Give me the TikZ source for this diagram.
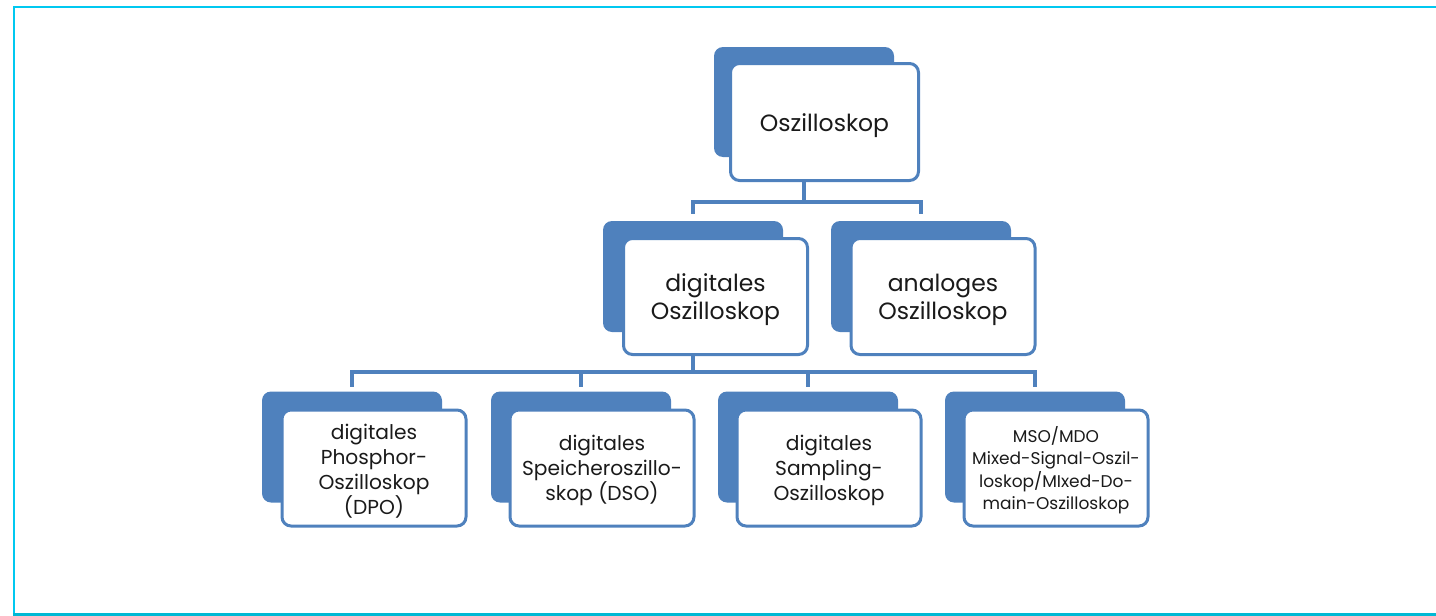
\documentclass[tikz,border=0pt]{standalone}
\usepackage{fontspec}
\setmainfont{Poppins}
\usetikzlibrary{calc}
\pgfdeclarelayer{bg}
\pgfsetlayers{bg,main}
\definecolor{boxblue}{HTML}{4F81BD}
\definecolor{frametop}{RGB}{0,200,240}
\definecolor{framebot}{RGB}{0,184,212}
\definecolor{txt}{HTML}{1A1A1A}
\begin{document}
\begin{tikzpicture}[x=1pt,y=-1pt,
  back/.style={draw=none, fill=boxblue, rounded corners=9pt, inner sep=0pt},
  front/.style={draw=boxblue, line width=3pt, fill=white, rounded corners=9pt, inner sep=0pt},
  label text/.style={align=center, text=txt, inner sep=0pt},
  conn/.style={draw=boxblue, line width=3.5pt},
  big/.style={font=\fontsize{23.5}{28}\selectfont},
  mid/.style={font=\fontsize{20.2}{25}\selectfont},
  small/.style={font=\fontsize{17}{22.5}\selectfont},
  bsize/.style={minimum width=180pt, minimum height=111pt},
  fsize/.style={minimum width=184pt, minimum height=116pt}
]
\useasboundingbox (0,0) rectangle (1436,616);
% frame
\draw[frametop, line width=2pt] (13,7) -- (1436,7);
\draw[frametop, line width=2pt] (14,6) -- (14,613);
\draw[framebot, line width=3pt] (13,614.5) -- (1436,614.5);

% level 1
\node[back, minimum width=180pt, minimum height=110pt] (topB) at (804,102) {};
\node[front, minimum width=188pt, minimum height=117pt] (top) at (824.5,122) {};
\node[label text, big] (topT) at ([yshift=-4pt]top.center) {Oszilloskop};

% level 2
\node[back, bsize] (digB) at (693,276.5) {};
\node[front, fsize] (dig) at (715.5,296.5) {};
\node[label text, big] (digT) at ([yshift=-3pt]dig.center) {digitales\\Oszilloskop};
\node[back, bsize] (anaB) at (921,276.5) {};
\node[front, fsize] (ana) at (943,296.5) {};
\node[label text, big] (anaT) at ([yshift=-3pt]ana.center) {analoges\\Oszilloskop};

% level 3
\node[back, bsize] (dpoB) at (352,447) {};
\node[front, fsize] (dpo) at (374,468) {};
\node[label text, mid] (dpoT) at ([yshift=-3pt]dpo.center) {digitales\\Phosphor-\\Oszilloskop\\(DPO)};
\node[back, bsize] (dsoB) at (581,447) {};
\node[front, fsize] (dso) at (602,468) {};
\node[label text, mid] (dsoT) at ([yshift=-2pt]dso.center) {digitales\\Speicheroszillo-\\skop (DSO)};
\node[back, bsize] (samB) at (808,447) {};
\node[front, fsize] (sam) at (829,468) {};
\node[label text, mid] (samT) at ([yshift=-2pt]sam.center) {digitales\\Sampling-\\Oszilloskop};
\node[back, bsize] (msoB) at (1035,447) {};
\node[front, fsize] (mso) at (1056,468) {};
\node[label text, small] (msoT) at ([yshift=-2pt]mso.center) {MSO/MDO\\Mixed-Signal-Oszil-\\loskop/MIxed-Do-\\main-Oszilloskop};

% connectors
\coordinate (h1) at (0,202);
\coordinate (h2) at (0,372);
\begin{pgfonlayer}{bg}
\draw[conn] (topB.south) -- (topB.south |- h1);
\draw[conn, shorten >=7pt] (topB.south |- h1) -| (digB.north);
\draw[conn, shorten >=7pt] (topB.south |- h1) -| (anaB.north);
\draw[conn] (digB.south) -- (digB.south |- h2);
\draw[conn, shorten >=4pt] (digB.south |- h2) -| (dpoB.north);
\draw[conn, shorten >=4pt] (digB.south |- h2) -| (dsoB.north);
\draw[conn, shorten >=4pt] (digB.south |- h2) -| (samB.north);
\draw[conn, shorten >=4pt] (digB.south |- h2) -| (msoB.north);
\end{pgfonlayer}
\end{tikzpicture}
\end{document}
